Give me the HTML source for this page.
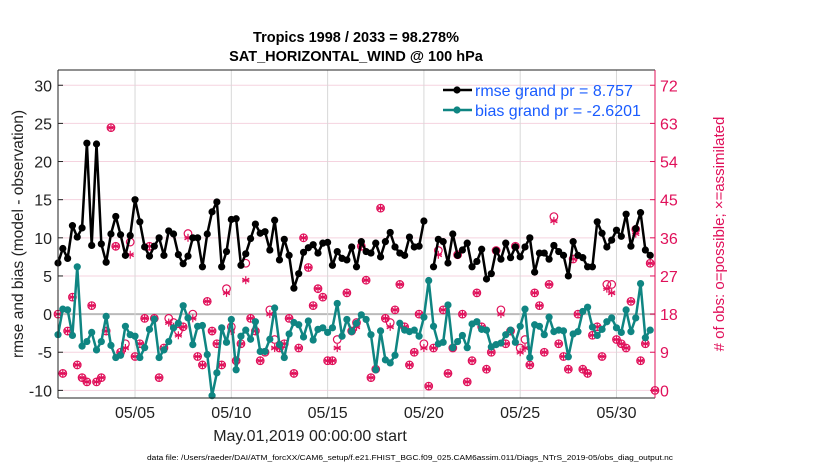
<!DOCTYPE html>
<html><head><meta charset="utf-8"><style>
body{margin:0;background:#fff;}
svg{display:block;font-family:"Liberation Sans",sans-serif;}
</style></head><body>
<svg id="chart" width="830" height="470" viewBox="0 0 830 470">
<text x="356" y="42" text-anchor="middle" font-size="14.5" font-weight="bold">Tropics 1998 / 2033 = 98.278%</text>
<text x="356" y="61" text-anchor="middle" font-size="14.5" font-weight="bold">SAT_HORIZONTAL_WIND @ 100 hPa</text>
<text transform="translate(23,234) rotate(-90)" text-anchor="middle" font-size="15.5" fill="#222">rmse and bias (model - observation)</text>
<text transform="translate(724,234) rotate(-90)" text-anchor="middle" font-size="15" fill="#e0105a"># of obs: o=possible; ×=assimilated</text>
<text x="310" y="441" text-anchor="middle" font-size="16" fill="#222">May.01,2019 00:00:00 start</text>
<text x="147" y="460" font-size="7" textLength="526" lengthAdjust="spacingAndGlyphs">data file: /Users/raeder/DAI/ATM_forcXX/CAM6_setup/f.e21.FHIST_BGC.f09_025.CAM6assim.011/Diags_NTrS_2019-05/obs_diag_output.nc</text>
<g id="plot"></g>
</svg>
<script>
const rmse=[6.7,8.6,7.3,11.6,10.1,11.3,22.4,9,22.3,9.2,6.8,10.5,12.8,10.4,7.7,10.3,15,12.1,8.8,7.6,8.9,10,7.7,10.9,10.5,7.8,6.6,7.6,10,10,6.2,10.5,13.4,14.7,6.2,8.2,12.4,12.5,6.4,7.9,9.9,11.8,10.6,10.8,8.4,12.3,7.1,9.8,7.7,3.4,5.3,8.1,8.7,9.1,8,9.3,9.4,
6.4,8.2,7.3,7.1,8.8,6.2,9.5,8.2,8.0,9.3,7.5,9.5,10.7,8.8,8.0,7.7,10.1,8.8,8.9,12.2,null,
6.2,9.8,9.5,6.7,10.5,7.7,8.4,9.3,6.2,6.9,8.5,4.6,5.3,8.3,7.2,9.3,7.4,8.8,7.5,8.8,10.0,5.5,8.0,8.0,7.2,9.0,8.2,7.7,5.0,9.5,7.7,7.4,6.2,6.2,12.1,10.6,8.8,9.7,11.0,10.2,13.1,8.9,11.2,13.3,8.4,7.7];
const bias=[-2.7,0.65,0.55,-2.8,6.2,-4.2,-3.6,-2.4,-4.7,-3.6,-0.3,-4.1,-5.7,-5.4,-1.6,-2.7,-2.9,-5.7,-4.4,-2.0,-0.65,-5.7,-4.7,-3.6,-1.8,-1.2,1.1,-0.5,-4.0,-1.6,-1.5,-5.3,-10.7,-7.7,-1.8,-3.7,-0.7,-7.3,-2.9,-2.1,-3.3,-1.0,-4.9,-4.9,-3.3,0.8,-4.0,-5.7,-2.6,-1.1,-1.4,-3.0,-0.9,-3.4,-2.0,-1.8,-2.4,
-1.8,1.4,-2.9,-0.7,-2.3,-1.2,-0.1,-0.7,-2.7,-7.3,-2.2,-6.0,-6.4,-5.4,-1.2,-2.1,-2.3,-2.1,-2.9,-0.4,4.4,-1.6,-3.9,-3.7,1.2,-4.4,-3.6,-2.8,-4.4,-1.3,-1.0,-2.0,-2.1,-4.3,-4.0,-3.8,-2.7,-2.1,-3.7,-1.6,0.65,-5.7,-1.4,-1.6,-2.7,-0.4,-2.3,-2.1,-2.2,-5.6,-2.6,-2.3,0.35,0.9,-1.7,-2.8,-2.0,-1.0,-0.5,-1.8,-2.4,0.55,-2.3,-0.5,4.0,-3.1,-2.1];
const possible=[18,4,14,22,6,3,2,20,2,3,14,62,34,9,11,35,8,11,17,34,17,3,10,17,16,14,15,37,18,8,6,21,14,11,6,24,15,7,11,30,17,14,7,9,19,12,10,11,17,4,10,36,29,20,24,22,7,
7,12,null,23,14,16,34,26,3,5,43,17,16,19,25,15,6,9,18,11,1,10,33,19,4,10,32,18,2,7,23,15,5,9,33,19,11,14,34,10,12,6,23,20,9,25,41,11,8,5,31,18,5,4,13,15,8,25,25,12,11,10,21,38,7,11,30,0];
const assimilated=[18,4,14,22,6,3,2,20,2,3,14,62,34,9,10,32,8,11,17,34,17,3,10,16,15,13,15,36,17,8,6,21,14,11,6,23,14,7,11,26,17,14,7,9,18,10,10,11,17,4,10,36,29,20,24,22,7,
7,10,null,23,14,15,34,26,3,5,43,17,15,19,25,15,6,9,18,10,1,10,32,19,4,10,32,18,2,7,23,15,5,9,33,18,11,14,34,9,10,6,23,20,9,25,40,11,8,5,31,18,5,4,13,15,8,24,23,12,11,10,21,37,7,11,30,0];
const leftTicks=[-10,-5,0,5,10,15,20,25,30];
const rightTicks=[0,9,18,27,36,45,54,63,72];
const dateTicks=[4,9,14,19,24,29];
const dateLabels=["05/05","05/10","05/15","05/20","05/25","05/30"];
const legendLabels=["rmse grand pr = 8.757","bias grand pr = -2.6201"];

const L=58,R=655,T=70,B=398,NS="http://www.w3.org/2000/svg";
const X=d=>L+(d/31)*(R-L);
const Y=v=>B-(v+11)/43*(B-T);
const YR=c=>Y(c/1.8-10);
const RED="#e0105a",TEAL="#0f8582";
const g=document.getElementById('plot');
function mk(t,a,p){const e=document.createElementNS(NS,t);for(const k in a)e.setAttribute(k,a[k]);(p||g).appendChild(e);return e;}

mk('rect',{x:L,y:T,width:R-L,height:B-T,fill:'#fff'});
leftTicks.forEach((v,i)=>{
  const ln=mk('line',{x1:L,x2:R,y1:Y(v),y2:Y(v),stroke:v===0?'#bbb':'#f5d3df','stroke-width':v===0?2:1});
  
  
  const t=mk('text',{x:L-6,y:Y(v)+6,'text-anchor':'end','font-size':16,fill:'#222'});
  t.textContent=v;
  
  
  mk('line',{x1:L,x2:L+5,y1:Y(v),y2:Y(v),stroke:'#222'});
});
rightTicks.forEach(c=>{
  mk('line',{x1:R-5,x2:R,y1:YR(c),y2:YR(c),stroke:RED});
  const t=mk('text',{x:R+5,y:YR(c)+6,'font-size':16,fill:RED});
  t.textContent=c;
  
  
});
dateTicks.forEach((d,i)=>{
  const ln=mk('line',{x1:X(d),x2:X(d),y1:T,y2:B,stroke:'#d8d8d8'});
  
  
  const t=mk('text',{x:X(d),y:418,'text-anchor':'middle','font-size':16,fill:'#222'});
  t.textContent=dateLabels[i];
  
  
});

function asterisk(cx,cy,r,p){
  for(let k=0;k<3;k++){const a=k*Math.PI/3+Math.PI/2;mk('line',{x1:cx-r*Math.cos(a),y1:cy-r*Math.sin(a),x2:cx+r*Math.cos(a),y2:cy+r*Math.sin(a),stroke:RED,'stroke-width':1.2},p);}
  mk('line',{x1:cx-r*0.9,y1:cy,x2:cx+r*0.9,y2:cy,stroke:RED,'stroke-width':1.2},p);
}
possible.forEach((c,i)=>{
  if(c===null)return;
  const pg=mk('g',{});
  
  
  mk('circle',{cx:X(i/4),cy:YR(c),r:3.8,fill:'none',stroke:RED,'stroke-width':1.2},pg);
  asterisk(X(i/4),YR(assimilated[i]),4,pg);
});

function series(vals,col,name){
  let segs=[],cur=[];
  vals.forEach((v,i)=>{if(v===null){if(cur.length)segs.push(cur);cur=[];}else cur.push([X(i/4),Y(v)]);});
  if(cur.length)segs.push(cur);
  segs.forEach(s=>{
    const p=mk('polyline',{points:s.map(q=>q.join(',')).join(' '),fill:'none',stroke:col,'stroke-width':2.5,'stroke-linejoin':'round'});
    
    
  });
  vals.forEach((v,i)=>{
    if(v===null)return;
    const c=mk('circle',{cx:X(i/4),cy:Y(v),r:3.6,fill:col});
    
    
  });
}
series(rmse,'#000','rmse');
series(bias,TEAL,'bias');

mk('line',{x1:L,x2:L,y1:T,y2:B,stroke:'#222'});
mk('line',{x1:L,x2:R,y1:T,y2:T,stroke:'#222'});
mk('line',{x1:L,x2:R,y1:B,y2:B,stroke:'#222'});
mk('line',{x1:R,x2:R,y1:T,y2:B,stroke:RED});

[['#000',90,'rmse'],[TEAL,110,'bias']].forEach((e,i)=>{
  const lg=mk('g',{});
  
  
  mk('line',{x1:443,x2:472,y1:e[1],y2:e[1],stroke:e[0],'stroke-width':2.5},lg);
  mk('circle',{cx:457,cy:e[1],r:3.6,fill:e[0]},lg);
  const t=mk('text',{x:475,y:e[1]+6,'font-size':16,fill:'#1a5cff'},lg);
  t.textContent=legendLabels[i];
});
</script>
</body></html>
